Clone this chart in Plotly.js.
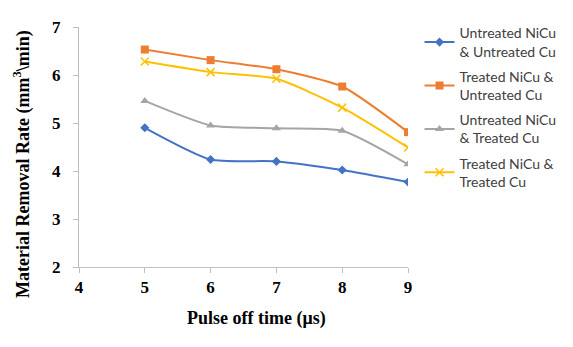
<!DOCTYPE html>
<html>
<head>
<meta charset="utf-8">
<script src="https://cdn.plot.ly/plotly-3.0.1.min.js"></script>
<style>
  html, body { margin: 0; padding: 0; background: #ffffff; }
  #chart { width: 573px; height: 347px; }
</style>
</head>
<body>
<div id="chart"></div>
<script>
// Pulse off time (us)
var pulseOff = [5, 6, 7, 8, 9];

// Material removal rate
var untreatedNiCuUntreatedCu = [4.90, 4.24, 4.20, 4.02, 3.77];
var treatedNiCuUntreatedCu = [6.53, 6.31, 6.12, 5.76, 4.81];
var untreatedNiCuTreatedCu = [5.46, 4.95, 4.89, 4.84, 4.14];
var treatedNiCuTreatedCu = [6.28, 6.06, 5.92, 5.32, 4.49];

var seriesNames = [
  "Untreated NiCu<br>& Untreated Cu",
  "Treated NiCu &<br>Untreated Cu",
  "Untreated NiCu<br>& Treated Cu",
  "Treated NiCu &<br>Treated Cu"
];

var colors = ["#4472C4", "#ED7D31", "#A5A5A5", "#FFC000"];
var symbols = ["diamond", "square", "triangle-up", "x-thin"];
var sizes = [7, 8, 8, 8];
var allY = [untreatedNiCuUntreatedCu, treatedNiCuUntreatedCu, untreatedNiCuTreatedCu, treatedNiCuTreatedCu];

var traces = allY.map(function (ys, i) {
  return {
    x: pulseOff, y: ys, name: seriesNames[i], legendgroup: "g" + i,
    mode: "lines+markers",
    line: { color: colors[i], width: 2, shape: "spline", smoothing: 0.6 },
    marker: { symbol: symbols[i], size: sizes[i], color: colors[i], line: { color: colors[i], width: i === 3 ? 1.5 : 0 } }
  };
});

var serif = "Liberation Serif, Times New Roman, serif";
var titleFont = { family: serif, size: 18, color: "#000000", weight: "bold" };
var tickFont = { family: serif, size: 17, color: "#000000", weight: "bold" };

Plotly.newPlot("chart", traces, {
  width: 573, height: 347,
  paper_bgcolor: "#ffffff", plot_bgcolor: "#ffffff",
  margin: { l: 79, r: 165, t: 27, b: 80 },
  showlegend: true,
  xaxis: {
    range: [4, 9], dtick: 1, showgrid: false, zeroline: false,
    showline: true, linecolor: "#BFBFBF", linewidth: 1,
    ticks: "outside", ticklen: 5, tickcolor: "#BFBFBF",
    tickfont: tickFont
  },
  yaxis: {
    range: [2, 7], dtick: 1, showgrid: false, zeroline: false,
    showline: true, linecolor: "#BFBFBF", linewidth: 1,
    ticks: "outside", ticklen: 5, tickcolor: "#BFBFBF",
    tickfont: tickFont, ticklabelstandoff: 9
  },
  // axis titles as annotations: in the source they sit off-centre
  annotations: [{
    text: "Material Removal Rate (mm<sup>3</sup>\\min)",
    xref: "paper", yref: "paper", x: -57 / 329, y: 103 / 240,
    xanchor: "center", yanchor: "middle", textangle: -90,
    showarrow: false, font: titleFont
  }, {
    text: "Pulse off time (μs)",
    xref: "paper", yref: "paper", x: 177 / 329, y: -51 / 240,
    xanchor: "center", yanchor: "middle",
    showarrow: false, font: titleFont
  }],
  legend: {
    x: 1.035, y: 1.04, xanchor: "left", yanchor: "top",
    font: { family: "Lato, Noto Sans, sans-serif", size: 14, color: "#404040" },
    bgcolor: "rgba(0,0,0,0)", traceorder: "grouped", tracegroupgap: 4
  }
}, { displayModeBar: false, staticPlot: true });
</script>
</body>
</html>
